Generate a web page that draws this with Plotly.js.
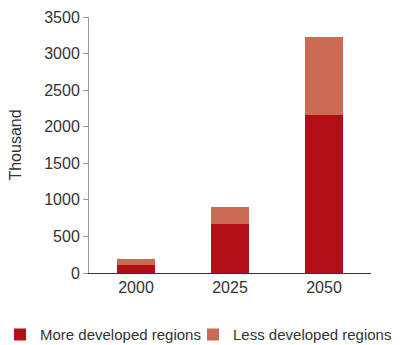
<!DOCTYPE html>
<html><head><meta charset="utf-8">
<script src="https://cdn.plot.ly/plotly-3.0.1.min.js"></script>
<style>html,body{margin:0;padding:0;background:#fff}#chart{width:401px;height:345px}</style>
</head><body><div id="chart"></div>
<script>
const categories = ['2000', '2025', '2050'];
const moreDeveloped = [110, 675, 2165];
const lessDeveloped = [75, 230, 1065];
const seriesNames = ['More developed regions', 'Less developed regions'];
const yTicks = [0, 500, 1000, 1500, 2000, 2500, 3000, 3500];

const font = {family: 'Liberation Sans, Arial, sans-serif', size: 16, color: '#333333'};
const legendFont = {family: 'Liberation Sans, Arial, sans-serif', size: 15, color: '#333333'};
const data = [
  {type: 'bar', x: categories, y: moreDeveloped, name: seriesNames[0], marker: {color: '#B20F17'}, legend: 'legend'},
  {type: 'bar', x: categories, y: lessDeveloped, name: seriesNames[1], marker: {color: '#CB6A52'}, legend: 'legend2'}
];
const legendBase = {orientation: 'h', xref: 'container', yref: 'container', y: 0.03, xanchor: 'left', yanchor: 'middle',
                    font: legendFont, itemwidth: 30, borderwidth: 0, bgcolor: 'rgba(0,0,0,0)'};
const layout = {
  width: 401, height: 345,
  margin: {l: 89, r: 30, t: 17, b: 72},
  barmode: 'stack', bargap: 0.59,
  font: font,
  showlegend: true,
  legend: Object.assign({}, legendBase, {x: 0}),
  legend2: Object.assign({}, legendBase, {x: 193 / 401}),
  xaxis: {type: 'category', showline: true, linecolor: '#333333', linewidth: 1, ticks: '', showgrid: false, zeroline: false, tickfont: font},
  yaxis: {range: [0, 3500], tickvals: yTicks, showline: true, linecolor: '#999999', linewidth: 1, ticks: 'outside', ticklen: 5, tickcolor: '#999999',
          showgrid: false, zeroline: false, tickfont: font, title: {text: 'Thousand', font: font, standoff: 18}},
  plot_bgcolor: '#fff', paper_bgcolor: '#fff'
};
Plotly.newPlot('chart', data, layout, {displayModeBar: false, staticPlot: true});
</script></body></html>
